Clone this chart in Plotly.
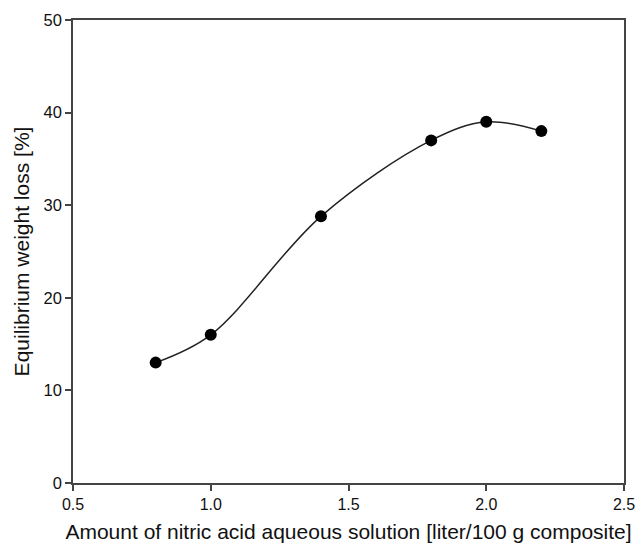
import plotly.graph_objects as go

x_vals = [0.8, 1.0, 1.4, 1.8, 2.0, 2.2]
y_vals = [13.0, 16.0, 28.8, 37.0, 39.0, 38.0]
x_ticks = [0.5, 1.0, 1.5, 2.0, 2.5]
x_tick_text = ["0.5", "1.0", "1.5", "2.0", "2.5"]
y_ticks = [0, 10, 20, 30, 40, 50]

fig = go.Figure()
fig.add_trace(go.Scatter(
    x=x_vals, y=y_vals, mode="lines+markers",
    line=dict(shape="spline", smoothing=1.0, color="#222222", width=1.5),
    marker=dict(size=12, color="black"),
    showlegend=False, hoverinfo="skip",
))

font = dict(family="Liberation Sans, Arial, sans-serif", size=16.5, color="#111111")
axis_common = dict(
    showgrid=False, zeroline=False, showline=True, linecolor="#444444", linewidth=1.5,
    mirror=True, ticks="outside", ticklen=6, tickcolor="#444444", tickwidth=1.5,
    automargin=False,
)
fig.update_layout(
    width=637, height=555,
    margin=dict(l=73, r=13, t=20, b=72),
    paper_bgcolor="white", plot_bgcolor="white",
    font=font,
    xaxis=dict(range=[0.5, 2.5], tickvals=x_ticks, ticktext=x_tick_text,
               tickfont=dict(family=font["family"], size=16, color="#111111"),
               title=dict(text="Amount of nitric acid aqueous solution [liter/100 g composite]",
                          font=dict(size=21), standoff=12),
               **axis_common),
    yaxis=dict(range=[0, 50], tickvals=y_ticks,
               tickfont=font,
               title=dict(text="Equilibrium weight loss [%]", font=dict(size=21), standoff=8),
               **axis_common),
)
fig.write_html(
    "out.html",
    config={"displayModeBar": False},
    post_script="document.body.style.margin='0';document.body.style.overflow='hidden';",
)
